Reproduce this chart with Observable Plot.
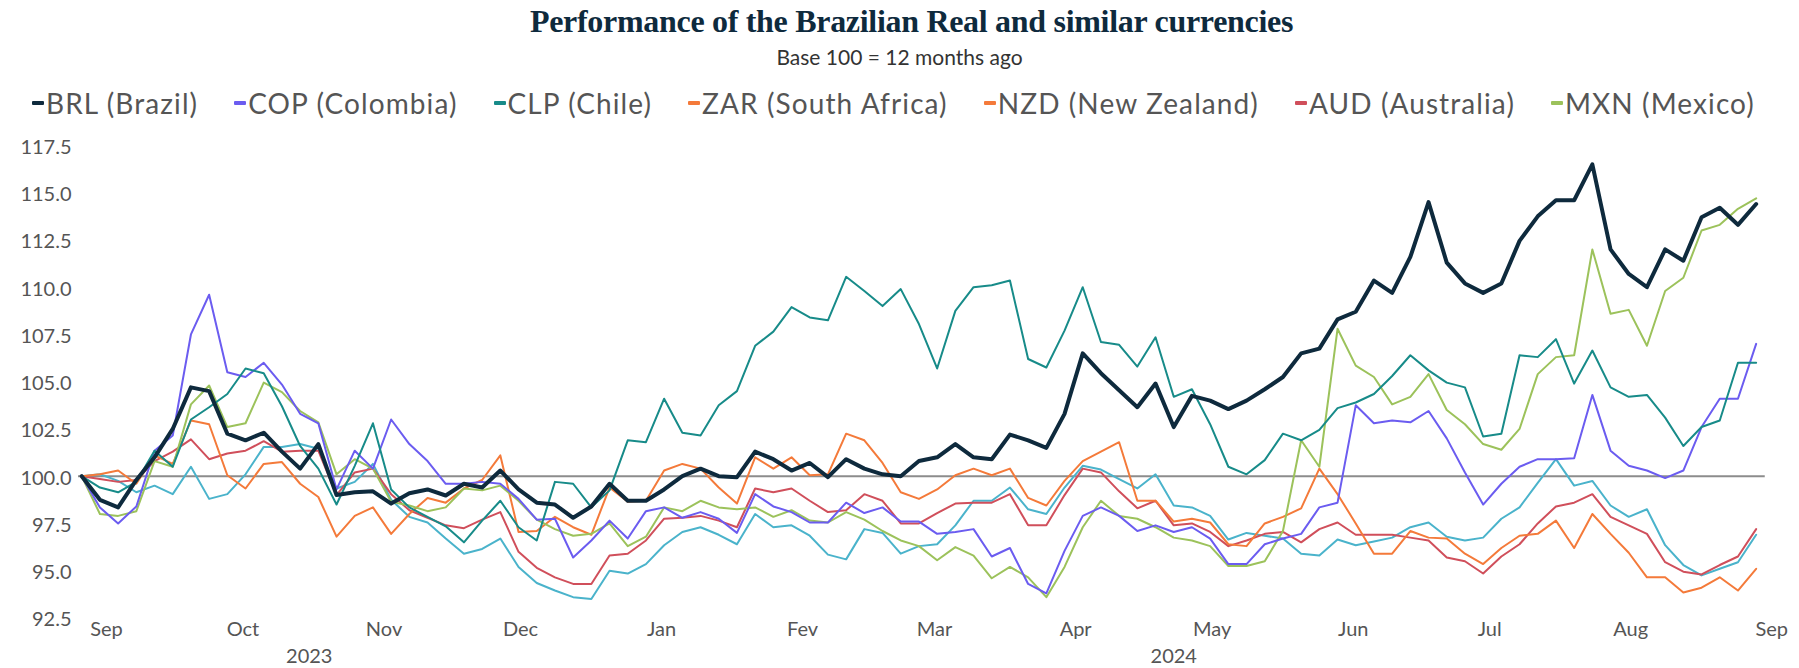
<!DOCTYPE html>
<html>
<head>
<meta charset="utf-8">
<script src="https://cdn.jsdelivr.net/npm/d3@7"></script>
<script src="https://cdn.jsdelivr.net/npm/@observablehq/plot@0.6"></script>
<style>
  html, body { margin: 0; padding: 0; background: #ffffff; }
  body { width: 1799px; height: 668px; overflow: hidden; font-family: Lato, "Open Sans", sans-serif; }
  #header { position: relative; width: 1799px; height: 110px; }
  #title { position: absolute; left: 12px; top: 4px; width: 1799px; text-align: center;
           font-family: "Liberation Serif", "DejaVu Serif", serif; font-weight: bold; font-size: 32px;
           line-height: 34px; color: #0e2a3d; letter-spacing: -0.3px; }
  #subtitle { position: absolute; left: 0; top: 45px; width: 1799px; text-align: center;
           font-size: 21px; line-height: 24px; color: #333; }
  #legend { position: absolute; left: 32px; top: 87px; display: flex; gap: 36px;
           font-size: 28px; line-height: 32px; color: #555; white-space: nowrap; letter-spacing: 1.1px; }
  .item { display: flex; align-items: center; }
  .sw { width: 12px; height: 4px; margin-right: 2px; border-radius: 1px; }
  svg { display: block; }
</style>
</head>
<body>
<div id="header">
  <div id="title">Performance of the Brazilian Real and similar currencies</div>
  <div id="subtitle">Base 100 = 12 months ago</div>
  <div id="legend"></div>
</div>
<div id="chart"></div>
<script>
// ---------- data ----------
const firstDate = "2023-08-27";   // first observation
const stepDays = 4;               // observations every 4 days

const seriesKeys   = ["BRL", "COP", "CLP", "ZAR", "NZD", "AUD", "MXN"];
const seriesLabels = ["BRL (Brazil)", "COP (Colombia)", "CLP (Chile)", "ZAR (South Africa)", "NZD (New Zealand)", "AUD (Australia)", "MXN (Mexico)"];

const BRL = [100.0,98.75,98.35,99.8,101.0,102.5,104.7,104.5,102.25,101.9,102.3,101.3,100.4,101.7,99.0,99.15,99.2,98.55,99.1,99.3,98.98,99.6,99.4,
  100.3,99.3,98.6,98.5,97.8,98.4,99.6,98.7,98.7,99.3,100.0,100.4,100.0,99.95,101.3,100.9,100.3,100.7,99.95,100.9,100.4,100.1,100.0,
  100.8,101.0,101.7,101.0,100.9,102.2,101.9,101.5,103.3,106.5,105.45,104.55,103.65,104.9,102.6,104.25,104.0,103.55,104.0,104.6,105.25,106.5,106.75,
  108.3,108.7,110.35,109.7,111.6,114.5,111.3,110.2,109.7,110.2,112.45,113.75,114.6,114.6,116.5,112.0,110.7,110.0,112.0,111.4,113.7,114.2,113.3,114.4];

const COP = [100.0,98.35,97.5,98.4,101.35,102.15,107.5,109.6,105.5,105.25,106.0,104.85,103.3,102.8,99.3,101.35,100.4,103.0,101.7,100.8,99.6,99.6,99.7,
  99.6,98.8,97.7,97.75,95.7,96.6,97.65,96.7,98.15,98.35,97.8,98.1,97.75,97.0,99.05,98.4,98.1,97.55,97.55,98.6,98.05,98.35,97.6,
  97.6,96.95,97.05,97.2,95.75,96.2,94.3,93.8,96.05,97.9,98.35,97.9,97.1,97.4,97.05,97.3,96.7,95.35,95.35,96.4,96.7,96.95,98.35,
  98.6,103.75,102.8,102.95,102.85,103.45,102.0,100.2,98.5,99.6,100.5,100.9,100.9,100.95,104.3,101.35,100.55,100.3,99.9,100.3,102.6,104.1,104.1,107.0];

const CLP = [100.0,99.4,99.15,99.7,101.35,100.5,103.0,103.65,104.35,105.7,105.45,103.7,101.6,100.4,98.5,100.55,102.8,99.3,98.35,97.85,97.35,96.5,97.65,
  98.7,97.3,96.6,99.7,99.6,98.35,99.25,101.9,101.8,104.1,102.3,102.15,103.75,104.5,106.9,107.65,108.95,108.4,108.25,110.55,109.8,109.0,109.9,
  108.05,105.7,108.75,110.0,110.1,110.35,106.2,105.75,107.7,110.0,107.1,106.95,105.8,107.35,104.2,104.6,102.75,100.5,100.1,100.85,102.25,101.9,102.45,
  103.6,103.9,104.35,105.3,106.4,105.6,104.95,104.7,102.1,102.25,106.4,106.3,107.25,104.9,106.65,104.7,104.2,104.3,103.1,101.6,102.6,102.95,106.0,106.0];

const ZAR = [100.0,100.1,100.3,99.6,101.1,100.65,102.95,102.75,100.05,99.35,100.65,100.75,99.6,98.9,96.8,97.9,98.35,96.95,98.0,98.85,98.6,99.35,99.8,
  101.1,97.05,97.1,97.85,97.3,96.9,99.4,98.65,98.7,100.3,100.65,100.4,99.4,98.55,101.0,100.4,101.0,100.05,100.1,102.25,101.9,100.7,99.15,
  98.8,99.3,100.05,100.4,100.05,100.4,98.85,98.45,99.75,100.8,101.3,101.8,98.7,98.7,97.6,97.75,97.55,96.4,96.3,97.5,97.85,98.3,100.4,
  99.05,97.5,95.9,95.9,97.1,96.75,96.7,95.9,95.35,96.2,96.85,96.95,97.65,96.2,98.0,96.95,95.95,94.65,94.65,93.85,94.1,94.65,93.95,95.1];

const NZD = [100.0,100.1,99.75,99.15,99.5,99.05,100.5,98.8,99.05,100.1,101.55,101.55,101.7,101.45,99.35,99.7,100.65,98.75,97.85,97.55,96.7,95.9,96.15,
  96.7,95.2,94.35,93.95,93.6,93.5,95.0,94.85,95.35,96.35,97.05,97.3,96.9,96.4,98.0,97.3,97.4,96.85,95.85,95.6,97.2,97.0,95.9,
  96.3,96.4,97.4,98.7,98.7,99.4,98.25,98.0,99.4,100.55,100.35,99.85,99.35,100.1,98.45,98.35,97.9,96.65,97.0,96.85,96.7,95.9,95.8,
  96.65,96.35,96.55,96.75,97.3,97.55,96.8,96.6,96.75,97.75,98.35,99.65,100.9,99.5,99.75,98.45,97.85,98.25,96.35,95.3,94.75,95.1,95.45,96.9];

const AUD = [100.0,99.85,99.7,99.8,100.8,101.3,101.95,100.9,101.2,101.35,101.85,101.3,101.35,101.35,99.0,100.2,100.4,99.05,98.2,97.8,97.4,97.25,97.7,
  98.1,96.0,95.15,94.65,94.3,94.3,95.8,95.9,96.6,97.75,97.8,97.9,97.65,97.3,99.35,99.15,99.35,98.7,98.1,98.2,99.05,98.7,97.5,
  97.5,98.05,98.55,98.6,98.6,99.05,97.4,97.4,99.0,100.4,100.2,99.2,98.3,98.7,97.4,97.5,97.05,96.3,96.6,96.95,97.05,96.5,97.2,
  97.55,96.9,96.9,96.9,96.75,96.6,95.7,95.5,94.85,95.75,96.4,97.5,98.4,98.6,99.05,97.85,97.4,96.95,95.45,94.95,94.8,95.3,95.75,97.2];

const MXN = [100.0,98.0,97.9,98.15,100.8,100.5,103.8,104.8,102.6,102.8,104.95,104.45,103.45,102.85,100.1,100.9,100.4,98.65,98.45,98.15,98.35,99.35,99.25,
  99.5,98.7,97.7,97.2,96.85,96.95,97.5,96.3,96.8,98.35,98.15,98.7,98.35,98.25,98.35,97.85,98.2,97.65,97.55,98.1,97.7,97.1,96.6,
  96.3,95.55,96.25,95.8,94.6,95.2,94.65,93.6,95.2,97.3,98.7,97.9,97.75,97.3,96.75,96.6,96.3,95.25,95.25,95.5,97.1,101.9,100.5,
  107.8,105.85,105.25,103.8,104.2,105.4,103.5,102.75,101.7,101.4,102.5,105.4,106.3,106.4,112.0,108.6,108.8,106.9,109.8,110.5,113.0,113.3,114.15,114.7];

const monthNames = ["Sep","Oct","Nov","Dec","Jan","Fev","Mar","Apr","May","Jun","Jul","Aug","Sep"];
const monthStarts = ["2023-09-01","2023-10-01","2023-11-01","2023-12-01","2024-01-01","2024-02-01","2024-03-01",
                     "2024-04-01","2024-05-01","2024-06-01","2024-07-01","2024-08-01","2024-09-01"];
const yearLabels = ["2023", "2024"];
const yTicks = [92.5, 95, 97.5, 100, 102.5, 105, 107.5, 110, 112.5, 115, 117.5];
const baseValue = 100;

// ---------- styles ----------
const legendColors = {BRL:"#0e2a3d", COP:"#6b5cf0", CLP:"#178b89", ZAR:"#f47a3a", NZD:"#f47a3a", AUD:"#d04f5b", MXN:"#9cc25b"};
const lineColors   = {BRL:"#0e2a3d", COP:"#6b5cf0", CLP:"#178b89", ZAR:"#f47a3a", NZD:"#4ab3cb", AUD:"#d04f5b", MXN:"#9cc25b"};
const drawOrder = ["NZD", "AUD", "ZAR", "MXN", "COP", "CLP", "BRL"];

// ---------- build table ----------
const DAY = 864e5;
const d0 = new Date(firstDate + "T00:00:00Z");
const values = {BRL, COP, CLP, ZAR, NZD, AUD, MXN};
const nObs = BRL.length;
const dates = d3.range(nObs).map(i => new Date(+d0 + i * stepDays * DAY));
const rows = [];
for (const k of seriesKeys) values[k].forEach((v, i) => rows.push({key: k, date: dates[i], value: v}));

const monthDates = monthStarts.map(s => new Date(s + "T00:00:00Z"));
const monthNameByTime = new Map(monthDates.map((d, i) => [+d, monthNames[i]]));

// layout of the time axis
const sep1 = monthDates[0];
const xDomain = [new Date(+sep1 - 5.71 * DAY), new Date(+sep1 + 368 * DAY)];
const yearAnchors = [new Date("2023-10-16T00:00:00Z"), new Date("2024-04-23T00:00:00Z")];
const yearRows = yearLabels.map((t, i) => ({text: t, date: yearAnchors[i]}));
const ruleRows = [{y: baseValue, x1: xDomain[0], x2: new Date(+sep1 + 365 * DAY)}];

// ---------- legend ----------
const legend = document.getElementById("legend");
seriesKeys.forEach((k, i) => {
  const it = document.createElement("div"); it.className = "item";
  const sw = document.createElement("span"); sw.className = "sw"; sw.style.background = legendColors[k];
  const tx = document.createElement("span"); tx.textContent = seriesLabels[i];
  it.appendChild(sw); it.appendChild(tx); legend.appendChild(it);
});

// ---------- plot ----------
const chart = Plot.plot({
  width: 1799,
  height: 558,
  marginLeft: 78,
  marginRight: 20.6,
  marginTop: 34.95,
  marginBottom: 50.55,
  style: {fontFamily: "Lato, 'Open Sans', sans-serif", color: "#555", background: "#fff"},
  x: {type: "utc", domain: xDomain},
  y: {domain: [92.5, 117.5]},
  marks: [
    Plot.ruleY(ruleRows, {y: "y", x1: "x1", x2: "x2", stroke: "#8c8c8c", strokeWidth: 2}),
    ...drawOrder.map(k => Plot.line(rows.filter(r => r.key === k), {
      x: "date", y: "value", stroke: lineColors[k],
      strokeWidth: k === "BRL" ? 4 : 2, strokeLinejoin: "round", strokeLinecap: "round"
    })),
    Plot.axisY({ticks: yTicks, tickFormat: d => d.toFixed(1), tickSize: 0, tickPadding: 7,
                fontSize: 20, label: null, dy: 2, fill: "#555"}),
    Plot.axisX({ticks: monthDates, tickFormat: d => monthNameByTime.get(+d), tickSize: 0, tickPadding: 4,
                fontSize: 20, label: null, dx: 2, fill: "#555"}),
    Plot.text(yearRows, {x: "date", text: "text", frameAnchor: "bottom", lineAnchor: "middle", dy: 39, fontSize: 20, fill: "#555"})
  ]
});
document.getElementById("chart").appendChild(chart);
</script>
</body>
</html>
